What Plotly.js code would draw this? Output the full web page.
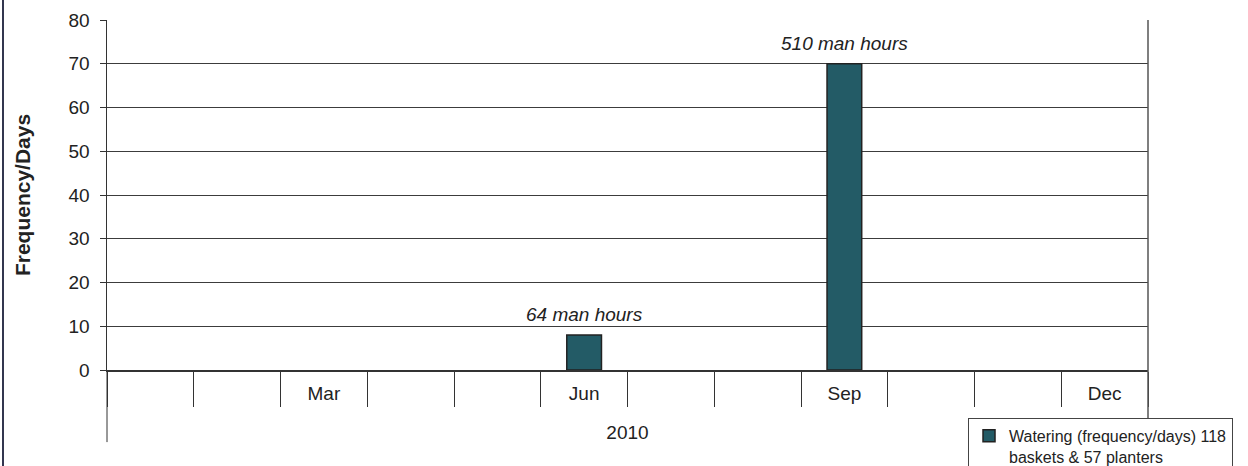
<!DOCTYPE html>
<html>
<head>
<meta charset="utf-8">
<script src="https://cdn.plot.ly/plotly-3.0.1.min.js"></script>
<style>
  html, body { margin: 0; padding: 0; background: #fff; }
  #chart { width: 1248px; height: 466px; position: relative; }
  #edge { position: absolute; left: 2px; top: 0; width: 2px; height: 466px; background: #33364f; }
</style>
</head>
<body>
<div id="chart"></div>
<div id="edge"></div>
<script>
// ---- data ----
const months = ["Jan","Feb","Mar","Apr","May","Jun","Jul","Aug","Sep","Oct","Nov","Dec"];
const monthLabels = ["","","Mar","","","Jun","","","Sep","","","Dec"];
const barMonths = ["Jun","Sep"];
const frequencyDays = [8, 70];
const manHoursLabels = ["64 man hours","510 man hours"];
const yearLabel = "2010";
const seriesName = "Watering (frequency/days) 118<br>baskets & 57 planters";
const yTitle = "Frequency/Days";

const font = "Liberation Sans, Arial, sans-serif";

const trace = {
  type: "bar",
  x: barMonths,
  y: frequencyDays,
  name: seriesName,
  width: 0.4,
  marker: { color: "#235b66", line: { color: "#222222", width: 1.5 } },
  showlegend: true,
  hoverinfo: "none"
};

const annotations = barMonths.map((m, i) => ({
  x: m, y: frequencyDays[i], xref: "x", yref: "y",
  text: manHoursLabels[i], showarrow: false,
  yanchor: "bottom", yshift: 8,
  font: { family: font, size: 19, color: "#222", style: "italic" }
}));

const layout = {
  width: 1248, height: 466,
  margin: { l: 107, r: 100, t: 20, b: 96, pad: 0, autoexpand: false },
  paper_bgcolor: "#fff", plot_bgcolor: "#fff",
  font: { family: font, size: 19, color: "#222" },
  bargap: 0.6,
  xaxis: {
    type: "category",
    categoryorder: "array",
    categoryarray: months,
    range: [-0.5, months.length - 0.5],
    tickvals: months,
    ticktext: monthLabels,
    tickson: "boundaries",
    ticks: "outside",
    ticklen: 35,
    tickwidth: 1,
    tickcolor: "#333",
    ticklabelstandoff: 6,
    showgrid: false,
    showline: true,
    linecolor: "#333",
    linewidth: 1.5,
    zeroline: false,
    automargin: false,
    tickfont: { family: font, size: 19, color: "#222" },
    title: { text: yearLabel, standoff: 22, font: { family: font, size: 19, color: "#222" } },
    fixedrange: true
  },
  yaxis: {
    range: [0, 80],
    dtick: 10,
    tick0: 0,
    ticks: "outside",
    ticklen: 6,
    tickcolor: "#333",
    ticklabelstandoff: 6,
    showgrid: true,
    gridcolor: "#3c3c3c",
    gridwidth: 1,
    showline: true,
    linecolor: "#333",
    linewidth: 1.5,
    zeroline: false,
    automargin: false,
    tickfont: { family: font, size: 19, color: "#222" },
    title: { text: yTitle, standoff: 32, font: { family: font, size: 21, color: "#222", weight: "bold" } },
    fixedrange: true
  },
  shapes: [
    { type: "line", xref: "paper", yref: "paper", x0: 0, x1: 0, y0: 0, y1: -0.206,
      line: { color: "#333", width: 1 } },
    { type: "line", xref: "paper", yref: "paper", x0: 1, x1: 1, y0: 1, y1: -0.206,
      line: { color: "#555", width: 1.5 } }
  ],
  annotations: annotations,
  showlegend: true,
  legend: {
    x: 0.8271, y: -0.137, xanchor: "left", yanchor: "top",
    xref: "paper", yref: "paper",
    bgcolor: "#fff", bordercolor: "#444", borderwidth: 1,
    valign: "top",
    tracegroupgap: 0,
    entrywidth: 260,
    font: { family: font, size: 16, color: "#222" }
  }
};

Plotly.newPlot("chart", [trace], layout, { displayModeBar: false, staticPlot: true });
</script>
</body>
</html>
